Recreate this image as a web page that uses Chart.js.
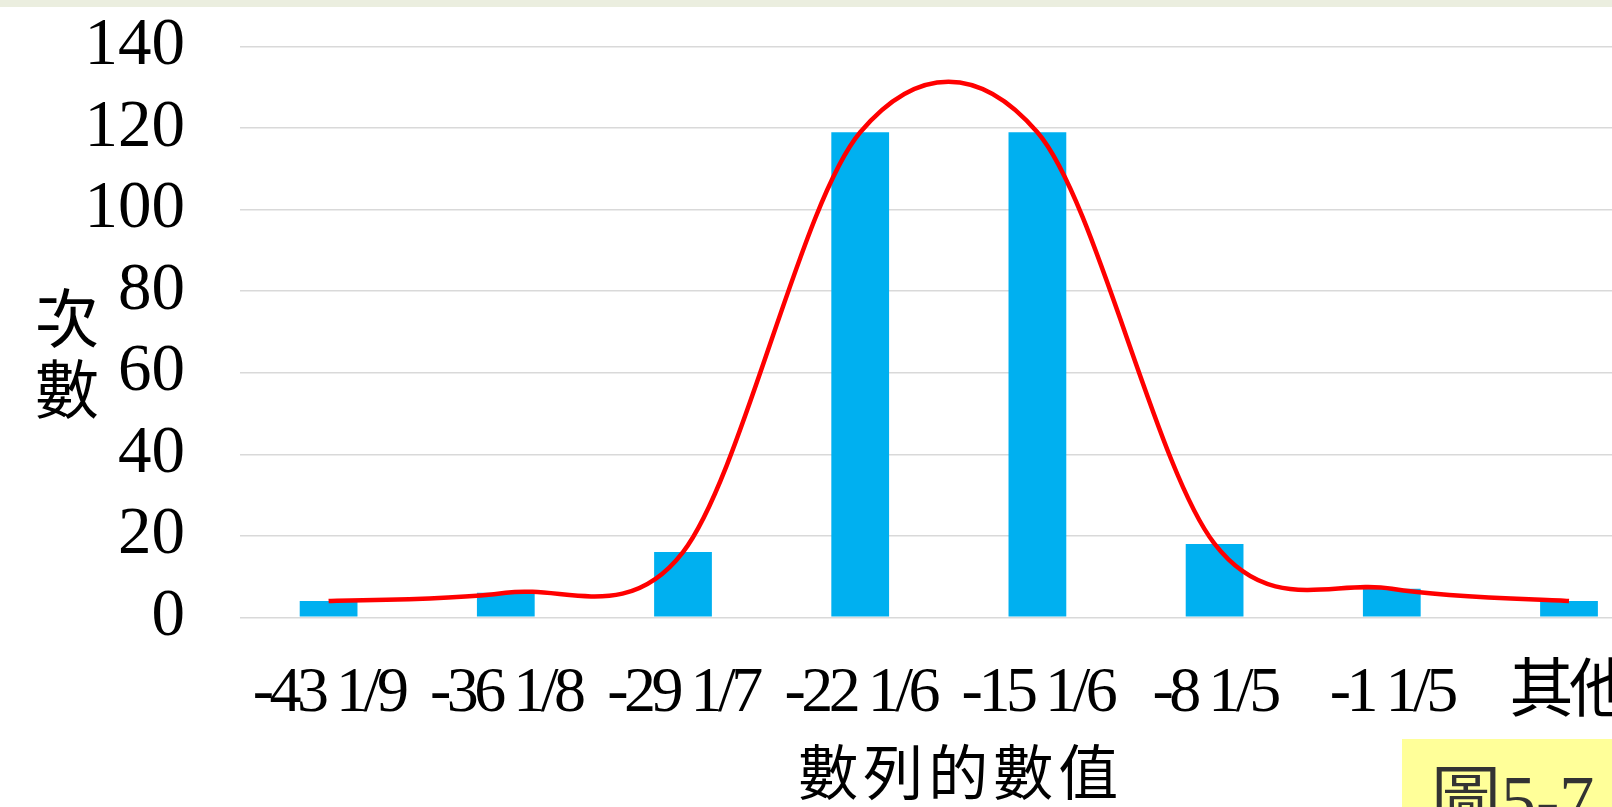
<!DOCTYPE html>
<html>
<head>
<meta charset="utf-8">
<script src="https://cdn.jsdelivr.net/npm/chart.js@4/dist/chart.umd.min.js"></script>
<style>
  html, body { margin: 0; padding: 0; width: 1612px; height: 807px; overflow: hidden; background: #ffffff; }
  #band { position: absolute; left: 0; top: 0; width: 1612px; height: 7px; background: #ebeedf; z-index: 2; }
  #wrap { position: absolute; left: 0; top: 0; width: 1700px; height: 807px; }
  #tag { position: absolute; left: 1402px; top: 739px; width: 230px; height: 90px; background: #ffff99; z-index: 2; overflow: hidden; }
  #tag span { position: absolute; left: 29px; top: 27px; font: 70px/1 'Liberation Serif', 'Noto Sans CJK TC', serif; color: #333333; white-space: nowrap; }
</style>
</head>
<body>
<div id="band"></div>
<div id="wrap"><canvas id="chart" width="1700" height="807"></canvas></div>
<div id="tag"><span>圖5-7</span></div>
<script>
// Histogram bins (category labels) and their counts
const categories = ['-43 1/9', '-36 1/8', '-29 1/7', '-22 1/6', '-15 1/6', '-8 1/5', '-1 1/5', '其他'];
const counts = [4, 6, 16, 119, 119, 18, 7, 4];
const yTickStep = 20;
const yMin = 0;
const yMax = 140;

const xTitle = '數列的數值';
const yTitle = ['次', '數'];

const helpers = Chart.helpers;

// Category axis whose tick labels are set tight and whose title is spaced out
class TightCategoryScale extends Chart.CategoryScale {
  drawLabels(area) {
    const ctx = this.ctx;
    ctx.save();
    ctx.letterSpacing = '-4.5px';
    super.drawLabels(area);
    ctx.restore();
  }
  drawTitle() {
    const ctx = this.ctx;
    ctx.save();
    ctx.letterSpacing = '5px';
    ctx.translate(12, 0);
    super.drawTitle();
    ctx.restore();
  }
}
TightCategoryScale.id = 'tightCategory';
TightCategoryScale.defaults = {};

// Value axis with its title written as upright stacked characters
class StackedTitleLinearScale extends Chart.LinearScale {
  drawTitle() {
    const t = this.options.title;
    if (!t.display) return;
    const font = helpers.toFont(t.font);
    const lines = [].concat(t.text);
    const x = this.left + 67;
    const y = (this.top + this.bottom) / 2 - 14;
    helpers.renderText(this.ctx, lines, x, y, font, {
      color: t.color, textAlign: 'center', textBaseline: 'middle'
    });
  }
}
StackedTitleLinearScale.id = 'stackedTitleLinear';
StackedTitleLinearScale.defaults = {};

Chart.register(TightCategoryScale, StackedTitleLinearScale);

// Smoothed line: Bezier handles at 1/6 of the neighbour span, limited to half of each segment
const smoothCurve = {
  id: 'smoothCurve',
  beforeDatasetDraw(chart, args) {
    const meta = args.meta;
    if (meta.type !== 'line') return;
    const pts = meta.data;
    const n = pts.length;
    for (let i = 0; i < n; i++) {
      const p = pts[i];
      const prev = pts[Math.max(i - 1, 0)];
      const next = pts[Math.min(i + 1, n - 1)];
      const tx = (next.x - prev.x) / 6;
      const ty = (next.y - prev.y) / 6;
      const len = Math.hypot(tx, ty);
      const dPrev = Math.hypot(p.x - prev.x, p.y - prev.y);
      const dNext = Math.hypot(next.x - p.x, next.y - p.y);
      const sPrev = len > dPrev / 2 && len > 0 ? (dPrev / 2) / len : 1;
      const sNext = len > dNext / 2 && len > 0 ? (dNext / 2) / len : 1;
      p.cp1x = p.x - tx * sPrev;
      p.cp1y = p.y - ty * sPrev;
      p.cp2x = p.x + tx * sNext;
      p.cp2y = p.y + ty * sNext;
    }
    meta.dataset._pointsUpdated = true;
    meta.dataset._path = undefined;
  }
};

const serif = "'Liberation Serif', 'Noto Sans CJK TC', serif";
const cjk = "'Noto Sans CJK TC', 'Noto Sans CJK SC', sans-serif";

new Chart(document.getElementById('chart'), {
  type: 'bar',
  data: {
    labels: categories,
    datasets: [
      {
        type: 'line',
        data: counts,
        borderColor: '#ff0000',
        borderWidth: 4.5,
        pointRadius: 0,
        pointHoverRadius: 0,
        fill: false,
        tension: 0.4,
        order: 0
      },
      {
        type: 'bar',
        data: counts,
        backgroundColor: '#00b0f0',
        borderWidth: 0,
        categoryPercentage: 1,
        barPercentage: 0.326,
        order: 1
      }
    ]
  },
  options: {
    responsive: false,
    animation: false,
    devicePixelRatio: 1,
    layout: { padding: { left: 0, right: 42.4, top: 0, bottom: 0 } },
    plugins: {
      legend: { display: false },
      tooltip: { enabled: false },
      title: { display: false }
    },
    scales: {
      x: {
        type: 'tightCategory',
        offset: true,
        grid: { display: false, drawTicks: false, offset: true },
        border: { display: false },
        ticks: {
          color: '#000000',
          font: { family: serif, size: 64, lineHeight: 1.2 },
          padding: 38,
          autoSkip: false,
          maxRotation: 0,
          minRotation: 0
        },
        title: {
          display: true,
          text: xTitle,
          color: '#000000',
          font: { family: cjk, size: 60, lineHeight: 1 },
          padding: { top: 0, bottom: 5 }
        },
        afterFit(scale) { scale.height = 807 - 617.3; }
      },
      y: {
        type: 'stackedTitleLinear',
        min: yMin,
        max: yMax,
        grid: { color: '#d9d9d9', lineWidth: 1.5, drawTicks: false },
        border: { display: false },
        ticks: {
          stepSize: yTickStep,
          autoSkip: false,
          color: '#000000',
          font: { family: serif, size: 67, lineHeight: 1.2 },
          padding: 55
        },
        title: {
          display: true,
          text: yTitle,
          color: '#000000',
          font: { family: cjk, size: 64, lineHeight: 1.1 }
        },
        afterFit(scale) {
          scale.width = 240;
          scale.paddingTop = 46.7;
          scale.paddingBottom = 0;
        }
      }
    }
  },
  plugins: [smoothCurve]
});
</script>
</body>
</html>
